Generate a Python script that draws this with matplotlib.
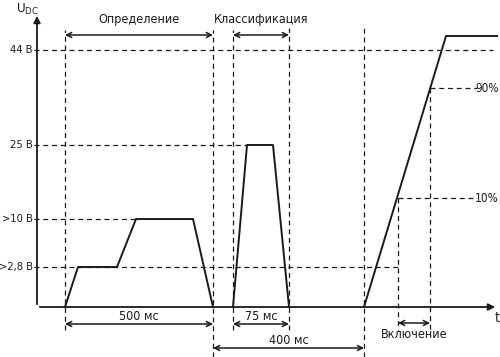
import matplotlib
matplotlib.use("Agg")
import matplotlib.pyplot as plt

plt.rcParams['font.family'] = ['DejaVu Sans']
plt.rcParams['font.stretch'] = 'condensed'

# schematic units: x = time (arb.), y = voltage level (arb., not to scale)
level_labels = ["44 В", "25 В", ">10 В", ">2,8 В"]
level_y = [257, 162, 88, 40]

# detection phase (two steps), classification pulse, power-up ramp
det_t = [28, 41, 80, 99, 156, 176]
det_u = [0, 40, 40, 88, 88, 0]
cls_t = [196, 210, 236, 252]
cls_u = [0, 162, 162, 0]
on_t = [327, 409, 460]
on_u = [0, 271, 271]

pct_labels = ["90%", "10%"]
pct_y = [219, 109]
pct_t = [393, 361]

phase_labels = ["Определение", "Классификация"]
phase_span = [(28, 176), (196, 252)]
dur_labels = ["500 мс", "75 мс", "400 мс", "Включение"]
dur_span = [(28, 176), (196, 252), (176, 327), (361, 393)]

ink = "#1a1a1a"
dash = (0, (4, 3))

fig = plt.figure(figsize=(5.0, 3.57), dpi=100)
ax = fig.add_axes([0, 0, 1, 1])
ax.set_xlim(-37, 463)
ax.set_ylim(-50, 307)
ax.axis("off")

# axes with arrows
ax.annotate("", xy=(0, 294), xytext=(0, 0),
            arrowprops=dict(arrowstyle="-|>", color=ink, lw=1.3, mutation_scale=10))
ax.annotate("", xy=(461, 0), xytext=(0, 0),
            arrowprops=dict(arrowstyle="-|>", color=ink, lw=1.3, mutation_scale=10))
ax.text(-21, 298, r"$\mathregular{U_{DC}}$", fontsize=9.5, color=ink, ha="left", va="center")
ax.text(460, -11, "t", fontsize=10, color=ink, ha="center", va="center")

# level guide lines
ends = [456, cls_t[1], det_t[3], pct_t[1]]
for lab, y, xe in zip(level_labels, level_y, ends):
    ax.plot([-3, xe], [y, y], color=ink, lw=0.9, ls=dash)
    ax.text(-4, y, lab, fontsize=8, color=ink, ha="right", va="center")

# vertical markers
for x, y0, y1 in [(det_t[0], -23, 277), (det_t[-1], -50, 277), (cls_t[0], -23, 277),
                  (cls_t[-1], -23, 279), (on_t[0], -50, 279)]:
    ax.plot([x, x], [y0, y1], color=ink, lw=0.9, ls=dash)

# percent markers
for lab, y, t in zip(pct_labels, pct_y, pct_t):
    ax.plot([t, t], [y, -23], color=ink, lw=0.9, ls=dash)
    ax.plot([t, 440], [y, y], color=ink, lw=0.9, ls=dash)
    ax.text(462, y, lab, fontsize=8.5, color=ink, ha="right", va="center")

# waveform
for t, u in [(det_t, det_u), (cls_t, cls_u), (on_t, on_u)]:
    ax.plot(t, u, color=ink, lw=1.4)

def span_arrow(a, b, y):
    ax.annotate("", xy=(b, y), xytext=(a, y),
                arrowprops=dict(arrowstyle="<->", color=ink, lw=1.1, mutation_scale=9,
                                shrinkA=0, shrinkB=0))

for lab, (a, b) in zip(phase_labels, phase_span):
    span_arrow(a, b, 272)
    ax.text((a + b) / 2, 287, lab, fontsize=9, color=ink, ha="center", va="center")

for lab, (a, b), ya, yt in zip(dur_labels, dur_span, [-17, -17, -41, -16], [-9, -9, -33, -27]):
    span_arrow(a, b, ya)
    ax.text((a + b) / 2, yt, lab, fontsize=9, color=ink, ha="center", va="center")

fig.savefig("out.png", dpi=100)
